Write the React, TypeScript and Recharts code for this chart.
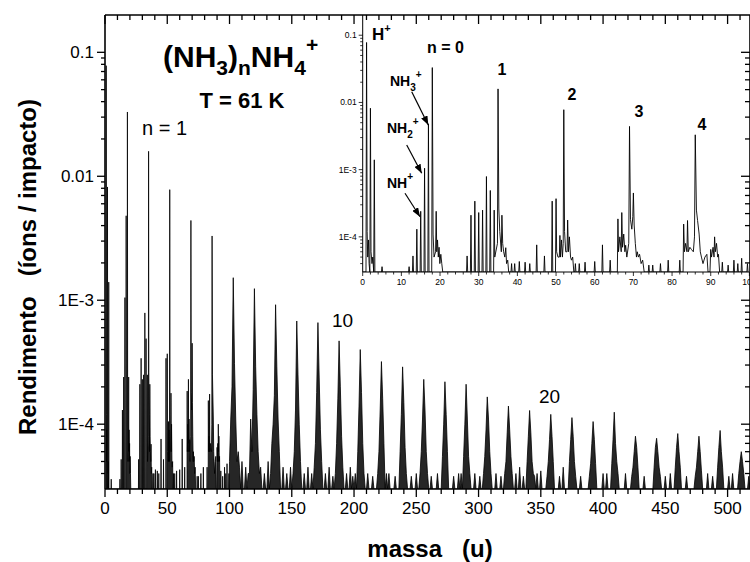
import React from 'react';
import { ComposedChart, Area, Line, XAxis, YAxis } from 'recharts';

const FONT = '"Liberation Sans", Arial, Helvetica, sans-serif';

// floor of the detector (bottom of the log axis)
const F = 3e-5;

// spectrum 0-100 u (mass, yield)
const lowSpectrum: [number, number][] = [
  [0, F], [0.85, F], [1, 0.078], [1.15, 1.2e-4], [1.3, 5e-5], [1.5, 9e-5], [1.65, 4e-5], [1.85, F],
  [2, 0.0082], [2.15, 6e-5], [2.4, 4e-5], [2.6, 5e-5], [2.85, F], [3, 1.4e-3], [3.15, F],
  [4.85, F], [5, 3.6e-5], [5.15, F],
  [11.85, F], [12, 3.6e-5], [12.15, F], [12.85, F], [13, 5.2e-5], [13.15, F],
  [13.85, F], [14, 1.3e-4], [14.15, F], [14.85, F], [15, 2.4e-4], [15.15, F],
  [15.85, F], [16, 1.05e-3], [16.15, F], [16.85, F], [17, 4.8e-3], [17.15, F],
  [17.85, F], [18, 0.033], [18.2, 1.1e-4], [18.45, 5e-5], [18.85, 6e-5], [19, 2.4e-4],
  [19.15, 6e-5], [19.35, 9e-5], [19.55, 5e-5], [19.75, 7e-5], [19.95, 4e-5], [20.2, 5.5e-5],
  [20.45, 4e-5], [20.7, F],
  [26.85, F], [27, 5.2e-5], [27.15, F], [27.85, F], [28, 2.1e-4], [28.15, F],
  [28.85, F], [29, 3.4e-4], [29.15, F], [29.85, F], [30, 2.3e-4], [30.15, F],
  [30.85, F], [31, 2.5e-4], [31.15, F], [31.85, F], [32, 7.9e-4], [32.15, F],
  [32.85, F], [33, 4.9e-4], [33.15, F], [33.85, F], [34, 2.5e-4], [34.15, 5e-5],
  [34.85, 8e-5], [35, 0.0159], [35.2, 2.6e-4], [35.45, 1.2e-4], [35.85, 6e-5], [36, 2.1e-4],
  [36.2, 8e-5], [36.45, 6e-5], [36.75, 5e-5], [37, 6.9e-5], [37.2, 4e-5], [37.5, 4.5e-5], [37.75, F],
  [38.35, F], [38.5, 4e-5], [38.65, F], [39.15, F], [39.3, 4e-5], [39.45, F],
  [40.35, F], [40.5, 4.3e-5], [40.65, F], [41.85, F], [42, 4.2e-5], [42.15, F],
  [43.05, F], [43.2, 4e-5], [43.35, F], [44.85, F], [45, 7.6e-5], [45.15, F],
  [46.85, F], [47, 5.2e-5], [47.15, F],
  [48.85, F], [49, 3.4e-4], [49.15, F], [49.85, F], [50, 3.7e-4], [50.15, 6e-5], [50.5, 5e-5],
  [50.85, 5e-5], [51, 1.05e-4], [51.15, 5e-5], [51.4, 9e-5], [51.65, 5e-5], [51.85, 8e-5],
  [52, 7.8e-3], [52.2, 1.2e-4], [52.5, 6e-5], [52.85, 6e-5], [53, 1.78e-4], [53.2, 6e-5],
  [53.45, 1e-4], [53.75, 5e-5], [54, 4.5e-5], [54.3, 5e-5], [54.6, F], [54.85, F], [55, 4e-5],
  [55.15, F], [55.85, F], [56, 4e-5], [56.15, F],
  [57.35, F], [57.5, 4.2e-5], [57.65, F], [59.85, F], [60, 4.3e-5], [60.15, F],
  [61.85, F], [62, 7.6e-5], [62.15, F], [63.85, F], [64, 4.5e-5], [64.15, F],
  [65.85, F], [66, 1.85e-4], [66.15, 6e-5], [66.5, 1e-4], [66.85, 6e-5], [67, 2.3e-4],
  [67.2, 7e-5], [67.5, 1.1e-4], [67.8, 6e-5], [68, 7.5e-5], [68.3, 5e-5], [68.8, 8e-5],
  [69, 4.4e-3], [69.25, 1.8e-4], [69.6, 1.3e-4], [69.85, 2e-4], [70, 4.5e-4], [70.2, 1.5e-4],
  [70.5, 8e-5], [70.8, 5e-5], [71, 6e-5], [71.3, 5e-5], [71.6, 5.5e-5], [72, 4e-5],
  [72.4, 4.5e-5], [72.8, F],
  [73.85, F], [74, 3.8e-5], [74.15, F], [74.85, F], [75, 3.8e-5], [75.15, F],
  [76.85, F], [77, 4e-5], [77.15, F], [78.85, F], [79, 4.5e-5], [79.15, F],
  [81.85, F], [82, 4.5e-5], [82.15, F],
  [82.85, F], [83, 1.55e-4], [83.2, 6e-5], [83.5, 8e-5], [83.85, 6e-5], [84, 1.75e-4],
  [84.2, 6e-5], [84.6, 7e-5], [85, 6.5e-5], [85.5, 6e-5], [85.8, 1e-4], [86, 3.3e-3],
  [86.3, 2.5e-4], [86.6, 1.75e-4], [87, 1.1e-4], [87.3, 6e-5], [87.6, 5e-5], [88, 4e-5],
  [88.5, 5e-5], [89, 5.5e-5], [89.3, F], [89.8, F], [90, 6.5e-5], [90.2, 5e-5], [90.6, 7e-5],
  [90.85, 5e-5], [91, 1.0e-4], [91.2, 6e-5], [91.5, 8e-5], [91.8, 5e-5], [92, 5.5e-5], [92.3, F],
  [92.85, F], [93, 4.2e-5], [93.15, F], [94.35, F], [94.5, 3.8e-5], [94.65, F],
  [95.85, F], [96, 4.5e-5], [96.15, F], [96.85, F], [97, 4e-5], [97.15, F],
  [97.85, F], [98, 4.8e-5], [98.15, F], [99.35, F], [99.5, 4e-5], [99.65, F],
];

// cluster peaks (NH3)nNH4+ for n = 5..29, mass = 18 + 17n
const clusterCenters = [
  103, 120, 137, 154, 171, 188, 205, 222, 239, 256, 273, 290, 307,
  324, 341, 358, 375, 392, 409, 426, 443, 460, 477, 494, 511,
];
// yields at center-4 ... center+4
const clusterProfiles = [
  [6e-5, 5e-5, 1.1e-4, 2e-4, 1.52e-3, 3.1e-4, 1.1e-4, 5e-5, 6e-5],
  [4e-5, 1.1e-4, 6e-5, 1.9e-4, 1.24e-3, 2.9e-4, 1.2e-4, 6e-5, 4e-5],
  [4e-5, 7e-5, 1.0e-4, 1.7e-4, 9.2e-4, 2.9e-4, 1.1e-4, 6e-5, F],
  [F, 4e-5, 6e-5, 1.3e-4, 6.8e-4, 2.5e-4, 1.0e-4, 5e-5, F],
  [F, 4.5e-5, 7e-5, 1.8e-4, 6.6e-4, 2.4e-4, 9e-5, 5e-5, F],
  [F, 4e-5, 7e-5, 1.6e-4, 4.7e-4, 2.0e-4, 8e-5, 4.5e-5, F],
  [4e-5, F, 6e-5, 1.4e-4, 4.0e-4, 1.8e-4, 7e-5, 4e-5, F],
  [F, 4e-5, 6e-5, 1.3e-4, 3.2e-4, 1.6e-4, 7e-5, F, 4e-5],
  [F, F, 6e-5, 1.2e-4, 2.9e-4, 1.5e-4, 6.5e-5, 4e-5, F],
  [F, 4e-5, 6e-5, 1.1e-4, 2.3e-4, 1.3e-4, 6e-5, 4e-5, F],
  [F, F, 5.5e-5, 1.0e-4, 2.2e-4, 1.2e-4, 6e-5, F, F],
  [4e-5, F, 5.5e-5, 1.0e-4, 2.1e-4, 1.1e-4, 5.5e-5, 4e-5, F],
  [F, 4e-5, 5.5e-5, 9e-5, 1.66e-4, 1.1e-4, 6e-5, 4e-5, F],
  [F, 4e-5, 5e-5, 8.5e-5, 1.4e-4, 9e-5, 5.5e-5, 4e-5, F],
  [F, F, 5e-5, 8e-5, 1.29e-4, 8.5e-5, 5e-5, 4e-5, 3.8e-5],
  [F, 3.8e-5, 5e-5, 7.5e-5, 1.2e-4, 8e-5, 5e-5, F, F],
  [F, F, 5e-5, 7.5e-5, 1.13e-4, 8e-5, 5e-5, 3.8e-5, F],
  [F, 3.8e-5, 4.8e-5, 7e-5, 1.05e-4, 7.5e-5, 4.8e-5, F, F],
  [F, F, 4.8e-5, 7.5e-5, 1.25e-4, 7e-5, 5e-5, 4e-5, F],
  [F, 3.8e-5, 4.5e-5, 6e-5, 8.0e-5, 6.5e-5, 4.5e-5, F, F],
  [F, F, 4.5e-5, 6.5e-5, 7.7e-5, 6e-5, 4.5e-5, 3.8e-5, F],
  [F, F, 4.5e-5, 6.5e-5, 8.4e-5, 6e-5, 4.5e-5, F, F],
  [F, 3.8e-5, 4.5e-5, 6e-5, 8.0e-5, 6e-5, 4.2e-5, F, F],
  [F, F, 4.5e-5, 6.5e-5, 8.9e-5, 6e-5, 4.5e-5, F, F],
  [F, F, 4e-5, 5e-5, 6.0e-5, 5e-5, 4e-5, F, F],
];

// small spikes between clusters above 100 u
const noiseSpikes: [number, number][] = [
  [108, 4.5e-5], [110, 5e-5], [113, 4.5e-5], [115, 4e-5], [125, 4.5e-5], [128, 4e-5], [131, 5e-5],
  [143, 4.5e-5], [146, 4e-5], [149, 4.5e-5], [160, 4e-5], [163, 4.5e-5], [166, 4e-5],
  [177, 4e-5], [180, 4.5e-5], [183, 3.8e-5], [194, 4e-5], [197, 4.5e-5], [199, 3.8e-5],
  [211, 4e-5], [215, 3.8e-5], [228, 4e-5], [233, 3.8e-5], [246, 3.8e-5], [250, 4e-5],
  [262, 3.8e-5], [267, 4e-5], [280, 3.8e-5], [284, 4e-5], [297, 4e-5], [301, 3.8e-5],
  [314, 4e-5], [318, 3.8e-5], [330, 4e-5], [333, 4.5e-5], [336, 3.8e-5], [347, 4e-5],
  [350, 4.2e-5], [365, 3.8e-5], [368, 4.5e-5], [382, 3.8e-5], [400, 4e-5], [403, 4e-5],
  [418, 4e-5], [433, 3.8e-5], [450, 3.8e-5], [454, 4e-5], [467, 3.8e-5], [484, 4e-5],
  [488, 3.8e-5], [501, 3.8e-5], [504, 4e-5], [517, 3.8e-5],
];

const xMajorTicks = [0, 50, 100, 150, 200, 250, 300, 350, 400, 450, 500];
const xTicks = [
  0, 10, 20, 30, 40, 50, 60, 70, 80, 90, 100, 110, 120, 130, 140, 150, 160, 170, 180, 190,
  200, 210, 220, 230, 240, 250, 260, 270, 280, 290, 300, 310, 320, 330, 340, 350, 360, 370,
  380, 390, 400, 410, 420, 430, 440, 450, 460, 470, 480, 490, 500, 510,
];
const yMajorTicks = [1e-4, 1e-3, 0.01, 0.1];
const yTickLabels = ['1E-4', '1E-3', '0.01', '0.1'];
const yMinorTicks = [
  4e-5, 5e-5, 6e-5, 7e-5, 8e-5, 9e-5,
  2e-4, 3e-4, 4e-4, 5e-4, 6e-4, 7e-4, 8e-4, 9e-4,
  2e-3, 3e-3, 4e-3, 5e-3, 6e-3, 7e-3, 8e-3, 9e-3,
  0.02, 0.03, 0.04, 0.05, 0.06, 0.07, 0.08, 0.09,
];
const yTicks = [...yMajorTicks, ...yMinorTicks].sort((a, b) => a - b);

const insetXMajorTicks = [0, 10, 20, 30, 40, 50, 60, 70, 80, 90, 100];
const insetXTicks = [
  0, 2, 4, 6, 8, 10, 12, 14, 16, 18, 20, 22, 24, 26, 28, 30, 32, 34, 36, 38, 40, 42, 44, 46, 48,
  50, 52, 54, 56, 58, 60, 62, 64, 66, 68, 70, 72, 74, 76, 78, 80, 82, 84, 86, 88, 90, 92, 94,
  96, 98, 100,
];

// build the tables
const highValues = new Map<number, number>();
clusterCenters.forEach((c, i) => clusterProfiles[i].forEach((v, k) => highValues.set(c - 4 + k, v)));
noiseSpikes.forEach(([m, v]) => highValues.set(m, v));
const highSpectrum: [number, number][] = [];
for (let m = 100; m <= 518; m++) highSpectrum.push([m, highValues.get(m) ?? F]);

const mainData = [...lowSpectrum, ...highSpectrum].map(([m, y]) => ({ m, y }));
const insetData = lowSpectrum.map(([m, y]) => ({ m, y }));

const LeftTick = ({ x, y, payload }: any) => {
  const i = yMajorTicks.indexOf(payload.value);
  return (
    <g>
      <line x1={x - (i >= 0 ? 8 : 4)} y1={y} x2={x} y2={y} stroke="#000" strokeWidth={1.3} />
      {i >= 0 && (
        <text x={x - 11} y={y + 6} textAnchor="end" fontSize={17} fontFamily={FONT} fill="#000">
          {yTickLabels[i]}
        </text>
      )}
    </g>
  );
};

const RightTick = ({ x, y, payload }: any) => {
  const major = yMajorTicks.includes(payload.value);
  return <line x1={x - (major ? 9 : 5)} y1={y} x2={x} y2={y} stroke="#000" strokeWidth={1.3} />;
};

const BottomTick = ({ x, y, payload }: any) => {
  const major = xMajorTicks.includes(payload.value);
  return (
    <g>
      <line x1={x} y1={y} x2={x} y2={y + (major ? 8 : 5)} stroke="#000" strokeWidth={1.3} />
      {major && (
        <text x={x} y={y + 25} textAnchor="middle" fontSize={17} fontFamily={FONT} fill="#000">
          {payload.value}
        </text>
      )}
    </g>
  );
};

const TopTick = ({ x, y, payload }: any) => {
  const major = xMajorTicks.includes(payload.value);
  return <line x1={x} y1={y} x2={x} y2={y + (major ? 9 : 5)} stroke="#000" strokeWidth={1.3} />;
};

const InsetLeftTick = ({ x, y, payload }: any) => {
  const i = yMajorTicks.indexOf(payload.value);
  return (
    <g>
      <line x1={x - (i >= 0 ? 4 : 2.5)} y1={y} x2={x} y2={y} stroke="#000" strokeWidth={0.8} />
      {i >= 0 && (
        <text x={x - 6} y={y + 3} textAnchor="end" fontSize={8.5} fontFamily={FONT} fill="#000">
          {yTickLabels[i]}
        </text>
      )}
    </g>
  );
};

const InsetBottomTick = ({ x, y, payload }: any) => {
  const major = insetXMajorTicks.includes(payload.value);
  return (
    <g>
      <line x1={x} y1={y} x2={x} y2={y + (major ? 4 : 2.5)} stroke="#000" strokeWidth={0.8} />
      {major && (
        <text x={x} y={y + 13} textAnchor="middle" fontSize={8.5} fontFamily={FONT} fill="#000">
          {payload.value}
        </text>
      )}
    </g>
  );
};

const W = 751;
const H = 562;

export default function App() {
  return (
    <div style={{ position: 'absolute', left: 0, top: 0, width: 750, height: H, background: '#fff', overflow: 'hidden' }}>
      <div style={{ position: 'absolute', left: 0, top: 0 }}>
        <ComposedChart width={W} height={H} data={mainData} margin={{ top: 14, right: 0, bottom: 72, left: 104 }}>
          <XAxis
            xAxisId="bottom" dataKey="m" type="number" domain={[0, 518]} allowDataOverflow
            ticks={xTicks} interval={0} height={1} tickSize={0} tickMargin={0}
            tickLine={false} axisLine={{ stroke: '#000', strokeWidth: 1.6 }} tick={<BottomTick />}
          />
          <XAxis
            xAxisId="top" orientation="top" dataKey="m" type="number" domain={[0, 518]} allowDataOverflow
            ticks={xTicks} interval={0} height={1} tickSize={0} tickMargin={0}
            tickLine={false} axisLine={{ stroke: '#000', strokeWidth: 1.6 }} tick={<TopTick />}
          />
          <YAxis
            yAxisId="left" type="number" scale="log" domain={[3e-5, 0.2]} allowDataOverflow
            ticks={yTicks} interval={0} width={1} tickSize={0} tickMargin={0}
            tickLine={false} axisLine={{ stroke: '#000', strokeWidth: 1.6 }} tick={<LeftTick />}
          />
          <YAxis
            yAxisId="right" orientation="right" type="number" scale="log" domain={[3e-5, 0.2]} allowDataOverflow
            ticks={yTicks} interval={0} width={1} tickSize={0} tickMargin={0}
            tickLine={false} axisLine={{ stroke: '#000', strokeWidth: 1.6 }} tick={<RightTick />}
          />
          <Area
            xAxisId="bottom" yAxisId="left" dataKey="y" type="linear" baseValue={F}
            stroke="#000" strokeWidth={0.8} fill="#000" fillOpacity={0.85}
            dot={false} activeDot={false} isAnimationActive={false}
          />
          <Line
            xAxisId="top" yAxisId="right" dataKey="y" type="linear" stroke="none"
            dot={false} activeDot={false} isAnimationActive={false}
          />
        </ComposedChart>
      </div>

      <div style={{ position: 'absolute', left: 0, top: 0 }}>
        <ComposedChart width={W} height={H} data={insetData} margin={{ top: 15, right: 1.6, bottom: 289, left: 361.7 }}>
          <XAxis
            dataKey="m" type="number" domain={[0, 100]} allowDataOverflow
            ticks={insetXTicks} interval={0} height={1} tickSize={0} tickMargin={0}
            tickLine={false} axisLine={{ stroke: '#000', strokeWidth: 1 }} tick={<InsetBottomTick />}
          />
          <YAxis
            type="number" scale="log" domain={[3e-5, 0.2]} allowDataOverflow
            ticks={yTicks} interval={0} width={1} tickSize={0} tickMargin={0}
            tickLine={false} axisLine={{ stroke: '#000', strokeWidth: 1 }} tick={<InsetLeftTick />}
          />
          <Line
            dataKey="y" type="linear" stroke="#000" strokeWidth={0.9}
            dot={false} activeDot={false} isAnimationActive={false}
          />
        </ComposedChart>
      </div>

      <svg width={750} height={H} style={{ position: 'absolute', left: 0, top: 0, pointerEvents: 'none' }}>
        <defs>
          <marker id="ah" markerWidth={9} markerHeight={7} refX={9} refY={3.5} orient="auto" markerUnits="userSpaceOnUse">
            <path d="M0,0 L9,3.5 L0,7 z" fill="#000" />
          </marker>
        </defs>
        <g fontFamily={FONT} fill="#000">
          <text
            transform="translate(36,267) rotate(-90)" textAnchor="middle" fontSize={24} fontWeight="bold"
            style={{ whiteSpace: 'pre' }}
          >
            {'Rendimento   (íons / impacto)'}
          </text>
          <text x={430} y={557} textAnchor="middle" fontSize={24} fontWeight="bold" style={{ whiteSpace: 'pre' }}>
            {'massa   (u)'}
          </text>

          <text x={163} y={67} fontSize={30} fontWeight="bold">
            (NH<tspan dy={8} fontSize={21}>3</tspan>
            <tspan dy={-8}>)</tspan>
            <tspan dy={8} fontSize={21}>n</tspan>
            <tspan dy={-8}>NH</tspan>
            <tspan dy={8} fontSize={21}>4</tspan>
            <tspan dy={-23} fontSize={21}>+</tspan>
          </text>
          <text x={242} y={108} textAnchor="middle" fontSize={22} fontWeight="bold">T = 61 K</text>
          <text x={142} y={135} fontSize={20}>n = 1</text>
          <text x={332} y={327} fontSize={19}>10</text>
          <text x={539} y={403} fontSize={19}>20</text>

          <text x={372} y={40} fontSize={17} fontWeight="bold">
            H<tspan dy={-8} fontSize={11}>+</tspan>
          </text>
          <text x={427} y={53} fontSize={16} fontWeight="bold">n = 0</text>
          <text x={502} y={75} textAnchor="middle" fontSize={16} fontWeight="bold">1</text>
          <text x={572} y={100} textAnchor="middle" fontSize={16} fontWeight="bold">2</text>
          <text x={639} y={117} textAnchor="middle" fontSize={16} fontWeight="bold">3</text>
          <text x={702} y={130} textAnchor="middle" fontSize={16} fontWeight="bold">4</text>

          <text x={390} y={86} fontSize={14} fontWeight="bold">
            NH<tspan dy={5} fontSize={10}>3</tspan>
            <tspan dy={-13} fontSize={10}>+</tspan>
          </text>
          <text x={387} y={133} fontSize={14} fontWeight="bold">
            NH<tspan dy={5} fontSize={10}>2</tspan>
            <tspan dy={-13} fontSize={10}>+</tspan>
          </text>
          <text x={387} y={188} fontSize={14} fontWeight="bold">
            NH<tspan dy={-8} fontSize={10}>+</tspan>
          </text>
        </g>
        <g stroke="#000" strokeWidth={1.2}>
          <line x1={411.7} y1={91.7} x2={428.3} y2={125} markerEnd="url(#ah)" />
          <line x1={406.7} y1={145} x2={421.7} y2={173.3} markerEnd="url(#ah)" />
          <line x1={405} y1={193.3} x2={420} y2={216.7} markerEnd="url(#ah)" />
        </g>
      </svg>
    </div>
  );
}
